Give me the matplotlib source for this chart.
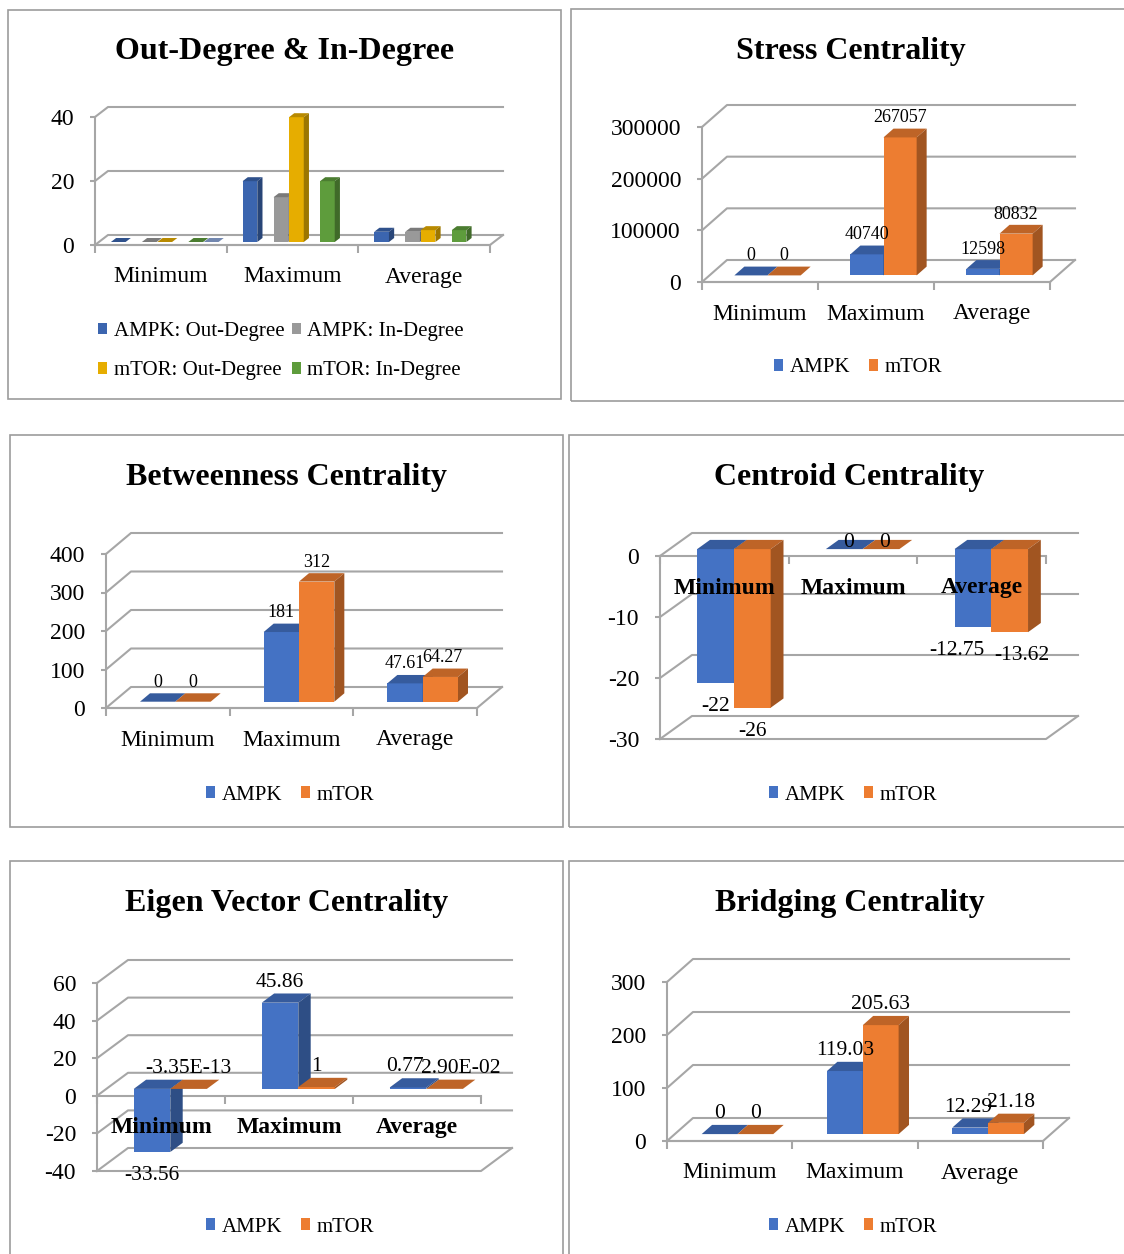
import numpy as np
import matplotlib
matplotlib.use("Agg")
import matplotlib.pyplot as plt
from matplotlib.patches import Polygon, Patch, Rectangle
from matplotlib.colors import to_rgb

plt.rcParams['font.family'] = ['Liberation Serif', 'DejaVu Serif']

W, H = 1124, 1254

categories = ['Minimum', 'Maximum', 'Average']

# Out-Degree & In-Degree
deg_ampk_out = [0, 19, 3.2]
deg_ampk_in = [0, 14, 3.2]
deg_mtor_out = [0, 39, 3.7]
deg_mtor_in = [0, 19, 3.7]
deg_extra = [0, np.nan, np.nan]
deg_labels = ['AMPK: Out-Degree', 'AMPK: In-Degree', 'mTOR: Out-Degree', 'mTOR: In-Degree']

# Stress Centrality
stress_ampk = [0, 40740, 12598]
stress_mtor = [0, 267057, 80832]

# Betweenness Centrality
betw_ampk = [0, 181, 47.61]
betw_mtor = [0, 312, 64.27]

# Centroid Centrality
centroid_ampk = [-22, 0, -12.75]
centroid_mtor = [-26, 0, -13.62]

# Eigen Vector Centrality
eigen_ampk = [-33.56, 45.86, 0.77]
eigen_mtor = [-3.35e-13, 1, 2.90e-02]

# Bridging Centrality
bridging_ampk = [0, 119.03, 12.29]
bridging_mtor = [0, 205.63, 21.18]

BLUE = '#4472C4'
ORANGE = '#ED7D31'
GRID = '#A6A6A6'
BORDER = '#9C9C9C'

fig = plt.figure(figsize=(W / 100, H / 100), dpi=100)


def shade(c, k):
    r, g, b = to_rgb(c)
    return (r * k, g * k, b * k)


def fmt(v):
    if v != 0 and abs(v) < 0.1:
        return '{:.2E}'.format(v)
    return '{:g}'.format(v)


def panel(box, title, xl, xr, yv, yp, depth, ticks, series, colors, slots, width,
          legend_names, legend_xy, legend_cols=1.0, label_size=13, pad_pos=11,
          pad_neg=14, nudges=None, bold_cats=False, show_labels=True):
    L, T, R, B = box
    ax = fig.add_axes([L / W, 1 - B / H, (R - L) / W, (B - T) / H])
    # pixel -> data mapping
    bx = (xr - xl) / 3.0
    ax0 = xl + 0.5 * bx
    dy_ = (yp[0] - yp[1]) / (yv[1] - yv[0])
    c0 = yp[0] + dy_ * yv[0]
    ax.set_xlim((L - ax0) / bx, (R - ax0) / bx)
    ax.set_ylim((c0 - B) / dy_, (c0 - T) / dy_)
    ddx = depth[0] / bx
    ddy = depth[1] / dy_

    # walls: back gridlines + left side diagonals
    for t in ticks:
        ax.plot([-0.5, -0.5 + ddx, 2.5 + ddx], [t, t + ddy, t + ddy],
                color=GRID, lw=1.5, zorder=1)
    lo_t = ticks[0]
    ax.plot([-0.5, 2.5, 2.5 + ddx], [lo_t, lo_t, lo_t + ddy], color=GRID, lw=1.5, zorder=1)

    # axes lines
    for s in ['top', 'right']:
        ax.spines[s].set_visible(False)
    ax.spines['left'].set_position(('data', -0.5))
    ax.spines['left'].set_bounds(ticks[0], ticks[-1])
    ax.spines['bottom'].set_position(('data', 0))
    ax.spines['bottom'].set_bounds(-0.5, 2.5)
    for s in ['left', 'bottom']:
        ax.spines[s].set_color(GRID)
        ax.spines[s].set_linewidth(1.5)
        ax.spines[s].set_zorder(1.5)
    ax.set_yticks(ticks)
    ax.set_yticklabels([fmt(t) for t in ticks], fontsize=17)
    ax.tick_params(axis='y', length=3.6, width=1.5, color=GRID, pad=11.5)
    ax.set_xticks([-0.5, 0.5, 1.5, 2.5])
    ax.set_xticklabels([])
    ax.tick_params(axis='x', length=5.8, width=1.5, color=GRID)
    ax.patch.set_visible(False)

    f, g = 0.3, 0.4
    xs = np.arange(len(categories))
    base = f * ddy
    k = 0
    for j, (vals, col, off) in enumerate(zip(series, colors, slots)):
        vals = np.asarray(vals, float)
        ok = ~np.isnan(vals)
        xpos = xs[ok] + off + f * ddx
        z = 3 + j * 0.01
        ax.bar(xpos, vals[ok], width=width, bottom=base, color=col, linewidth=0, zorder=z)
        for xc, v in zip(xpos, vals[ok]):
            x0, x1 = xc - width / 2, xc + width / 2
            lo, hi = base + min(v, 0), base + max(v, 0)
            ax.add_patch(Polygon([(x0, hi), (x1, hi), (x1 + g * ddx, hi + g * ddy),
                                  (x0 + g * ddx, hi + g * ddy)],
                                 closed=True, facecolor=shade(col, 0.8), lw=0, zorder=z))
            ax.add_patch(Polygon([(x1, lo), (x1, hi), (x1 + g * ddx, hi + g * ddy),
                                  (x1 + g * ddx, lo + g * ddy)],
                                 closed=True, facecolor=shade(col, 0.68), lw=0, zorder=z))
            if show_labels:
                nx = nudges[k] if nudges else 0
                if v >= -1e-9:
                    ax.annotate(fmt(v), (xc, hi), xytext=(nx * 0.72, pad_pos * 0.72),
                                textcoords='offset points', ha='center', va='bottom',
                                fontsize=label_size, zorder=10)
                else:
                    ax.annotate(fmt(v), (xc, lo), xytext=(nx * 0.72, -pad_neg * 0.72),
                                textcoords='offset points', ha='center', va='top',
                                fontsize=label_size, zorder=10)
            k += 1

    # category labels
    for i, cat in enumerate(categories):
        ax.annotate(cat, (i, 0), xytext=(0, -32 * 0.72), textcoords='offset points',
                    ha='center', va='center', fontsize=17,
                    fontweight='bold' if bold_cats else 'normal', zorder=10)

    # title
    ax.text(0.5, 1 - 42 / (B - T), title, transform=ax.transAxes, ha='center',
            va='center', fontsize=23, fontweight='bold')

    # panel frame
    ax.add_patch(Rectangle((0, 0), 1, 1, transform=ax.transAxes, fill=False,
                           edgecolor=BORDER, lw=1.2, clip_on=False, zorder=20))

    # legend
    n = len(legend_names)
    order = [0, 2, 1, 3] if n == 4 else list(range(n))
    handles = [Patch(facecolor=colors[i]) for i in range(n)]
    lx = (legend_xy[0] - L) / (R - L)
    ly = (B - legend_xy[1]) / (B - T)
    ax.legend([handles[o] for o in order], [legend_names[o] for o in order],
              loc='center', bbox_to_anchor=(lx, ly), ncol=2, frameon=False,
              fontsize=15, handlelength=0.45, handleheight=0.45, handletextpad=0.3,
              columnspacing=legend_cols, borderpad=0, labelspacing=1.0)
    return ax


# slot layout for the 7-slot degree chart (gap width 150%)
s7 = 1 / 8.5
deg_slots = [(kk - 3) * s7 for kk in [0, 2, 3, 5, 6]]
w2 = 1 / 3.5
two_slots = [-w2 / 2, w2 / 2]

panel((8, 10, 561, 399), 'Out-Degree & In-Degree', 95, 490, (0, 40), (245, 117),
      (13, 10), [0, 20, 40],
      [deg_ampk_out, deg_ampk_in, deg_mtor_out, deg_mtor_in, deg_extra],
      ['#3B65AF', '#999999', '#E6AD00', '#5E9C3C', '#8EA9DB'], deg_slots, s7 * 0.95,
      deg_labels, (281, 351), legend_cols=0.35, show_labels=False)

panel((571, 9, 1130, 401), 'Stress Centrality', 702, 1050, (0, 300000), (282, 127),
      (25, 22), [0, 100000, 200000, 300000],
      [stress_ampk, stress_mtor], [BLUE, ORANGE], two_slots, w2,
      ['AMPK', 'mTOR'], (858, 368), legend_cols=0.9, label_size=13)

panel((10, 435, 563, 827), 'Betweenness Centrality', 106, 477, (0, 400), (708, 554),
      (25, 21), [0, 100, 200, 300, 400],
      [betw_ampk, betw_mtor], [BLUE, ORANGE], two_slots, w2,
      ['AMPK', 'mTOR'], (290, 795), legend_cols=0.9, label_size=13,
      nudges=[0, 0, 0, 0, 0, 2])

panel((569, 435, 1130, 827), 'Centroid Centrality', 660, 1046, (0, -30), (556, 739),
      (32, 23), [-30, -20, -10, 0],
      [centroid_ampk, centroid_mtor], [BLUE, ORANGE], two_slots, w2,
      ['AMPK', 'mTOR'], (853, 795), legend_cols=0.9, label_size=15.5,
      pad_pos=-3, pad_neg=14, nudges=[0, 4, -16, 0, 4, 12], bold_cats=True)

panel((10, 861, 563, 1258), 'Eigen Vector Centrality', 97, 481, (60, -40), (983, 1171),
      (31, 23), [-40, -20, 0, 20, 40, 60],
      [eigen_ampk, eigen_mtor], [BLUE, ORANGE], two_slots, w2,
      ['AMPK', 'mTOR'], (290, 1227), legend_cols=0.9, label_size=15.5,
      pad_pos=11, pad_neg=14, nudges=[0, 0, -3, 0, 0, 16], bold_cats=True)

panel((569, 861, 1130, 1258), 'Bridging Centrality', 667, 1043, (0, 300), (1141, 982),
      (26, 23), [0, 100, 200, 300],
      [bridging_ampk, bridging_mtor], [BLUE, ORANGE], two_slots, w2,
      ['AMPK', 'mTOR'], (853, 1227), legend_cols=0.9, label_size=15.5,
      nudges=[0, 0, -2, 0, 0, 5])

fig.savefig('out.png', dpi=100)
